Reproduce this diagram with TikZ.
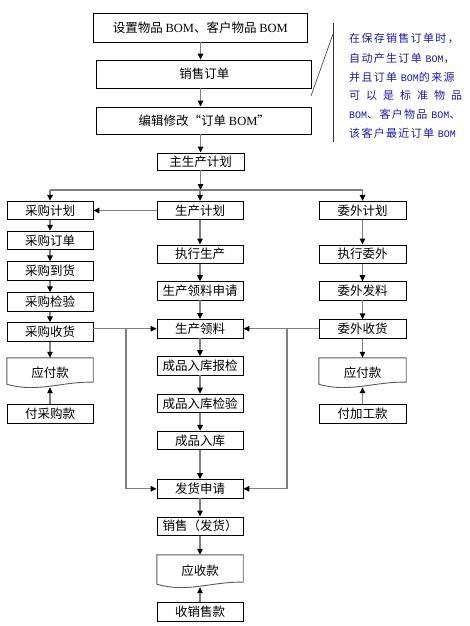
\documentclass[tikz,border=0pt]{standalone}
\usepackage{fontspec}
\setmainfont{Noto Sans CJK SC}
\newfontfamily\lat{Liberation Serif}
\newfontfamily\annot[LetterSpace=12]{Noto Sans CJK SC}
\newfontfamily\annlatfont{Liberation Mono}
\newcommand\annlat[1]{{\annlatfont\fontsize{10}{12}\selectfont #1}}
\usetikzlibrary{arrows.meta,calc}
\definecolor{linegray}{RGB}{128,128,128}
\definecolor{docgray}{RGB}{90,90,90}
\definecolor{annblue}{RGB}{25,25,175}
\newcommand\mydocshape[1]{%
  \draw[docline] (#1.north west) -- ($(#1.south west)+(0,-3)$)
    .. controls ($(#1.south west)!0.35!(#1.south east)+(0,6)$) and ($(#1.south west)!0.65!(#1.south east)+(0,-6)$)
    .. ($(#1.south east)+(0,-5)$) -- (#1.north east) -- cycle;}
\begin{document}
\begin{tikzpicture}[x=1pt,y=-1pt,
  box/.style={draw=black,line width=0.8pt,inner sep=0pt,minimum width=86pt,minimum height=18.5pt,
    font=\fontsize{12.5}{14}\selectfont,fill=white},
  bigbox/.style={box,minimum width=215pt,minimum height=28pt},
  doc/.style={inner sep=0pt,minimum width=86pt,font=\fontsize{12.5}{14}\selectfont},
  docline/.style={draw=docgray,line width=0.9pt},
  line/.style={draw=linegray,line width=1.3pt},
  arr/.style={line,-{Triangle[width=5.5pt,length=6pt,color=black]}},
  ann/.style={anchor=west,inner sep=0pt,text=annblue,font=\annot\fontsize{11}{12}\selectfont},
]
\useasboundingbox (0,0) rectangle (469,626);
\coordinate (axis) at (200.5,0);
% top
\node[bigbox,minimum width=214pt,minimum height=29pt] (b1) at (200.3,27.5) {设置物品 {\lat BOM}、客户物品 {\lat BOM}};
\node[bigbox] (b2) at (204.3,74) {销售订单};
\node[bigbox,minimum height=27pt] (b3) at (204.3,120.5) {编辑修改“订单 {\lat BOM}”};
\node[box,minimum width=87pt,minimum height=17pt] (b4) at (200.5,161.5) {主生产计划};
% left column
\node[box] (cg1) at (50,210.5) {采购计划};
\node[box] (cg2) at (50,240.5) {采购订单};
\node[box] (cg3) at (50,271) {采购到货};
\node[box] (cg4) at (50,302) {采购检验};
\node[box] (cg5) at (50,332) {采购收货};
\node[doc,minimum height=29pt] (cgd) at (50,372.5) {应付款};
\node[box] (cg6) at (50,414) {付采购款};
% middle column
\node[box] (sc1) at (200,210.5) {生产计划};
\node[box] (sc2) at (200,254.2) {执行生产};
\node[box] (sc3) at (200,290.8) {生产领料申请};
\node[box] (sc4) at (200,328.7) {生产领料};
\node[box] (sc5) at (200,365.8) {成品入库报检};
\node[box] (sc6) at (200,403.3) {成品入库检验};
\node[box] (sc7) at (200,440.5) {成品入库};
\node[box] (fh) at (200,488.8) {发货申请};
\node[box] (xs) at (200,526.2) {销售（发货）};
\node[doc,minimum height=32pt] (ys) at (200,571) {应收款};
\node[box] (sk) at (200,611.7) {收销售款};
% right column
\node[box,minimum width=87pt] (ww1) at (362.5,210.5) {委外计划};
\node[box,minimum width=87pt] (ww2) at (362.5,254.2) {执行委外};
\node[box,minimum width=87pt] (ww3) at (362.5,290.8) {委外发料};
\node[box,minimum width=87pt] (ww4) at (362.5,329) {委外收货};
\node[doc,minimum width=87pt,minimum height=29pt] (wwd) at (362.5,372.5) {应付款};
\node[box,minimum width=87pt] (ww5) at (362.5,414) {付加工款};
% document shapes
\mydocshape{cgd}
\mydocshape{ys}
\mydocshape{wwd}
% top arrows
\draw[arr] (b1.south -| axis) -- (b2.north -| axis);
\draw[arr] (b2.south -| axis) -- (b3.north -| axis);
\draw[arr] (b3.south -| axis) -- (b4.north -| axis);
\coordinate (bus) at (200.5,190);
\draw[arr] (b4.south) -- (bus);
\draw[line] (bus -| cg1) -- (bus -| ww1);
\draw[arr] (bus -| cg1) -- (cg1.north);
\draw[arr] (bus -| sc1) -- (sc1.north);
\draw[arr] (bus -| ww1) -- (ww1.north);
\draw[arr] (sc1.west) -- (cg1.east);
% left chain
\draw[arr] (cg1) -- (cg2);
\draw[arr] (cg2) -- (cg3);
\draw[arr] (cg3) -- (cg4);
\draw[arr] (cg4) -- (cg5);
\draw[arr] (cg5.south) -- (cgd.north);
\draw[arr] (cg6.north) -- (cgd.south);
% middle chain
\draw[arr] (sc1) -- (sc2);
\draw[arr] (sc2) -- (sc3);
\draw[arr] (sc3) -- (sc4);
\draw[arr] (sc4) -- (sc5);
\draw[arr] (sc5) -- (sc6);
\draw[arr] (sc6) -- (sc7);
\draw[arr] (sc7) -- (fh);
\draw[arr] (fh) -- (xs);
\draw[arr] (xs.south) -- (ys.north);
\draw[arr] (sk.north) -- (ys.south);
% right chain
\draw[arr] (ww1) -- (ww2);
\draw[arr] (ww2) -- (ww3);
\draw[arr] (ww3) -- (ww4);
\draw[arr] (ww4.south) -- (wwd.north);
\draw[arr] (ww5.north) -- (wwd.south);
% cross connectors
\coordinate (jl) at (126,329);
\coordinate (jr) at (287,329);
\draw[arr] (cg5.east |- sc4.west) -- (sc4.west);
\draw[arr] (jl) |- (fh.west);
\draw[arr] (ww4.west |- sc4.east) -- (sc4.east);
\draw[arr] (jr) |- (fh.east);
% annotation
\coordinate (bt) at (333,23);
\coordinate (bb) at (333,142);
\coordinate (bd1) at (333,34);
\coordinate (bd2) at (311,96);
\draw[line width=0.7pt,black!80] (bt) -- (bb);
\draw[line width=0.7pt,black!70] (bd1) -- (bd2);
\node[ann] (a1) at (349,38) {在保存销售订单时，};
\node[ann] (a2) at (349,58) {自动产生订单 \annlat{BOM}，};
\node[ann] (a3) at (349,77) {并且订单 \annlat{BOM}的来源};
\node[ann] (a4) at (349,95) {\makebox[113pt][s]{可 以 是 标 准 物 品}};
\node[ann] (a5) at (349,114) {\annlat{BOM}、客户物品 \annlat{BOM}、};
\node[ann] (a6) at (349,133) {该客户最近订单 \annlat{BOM}};
\end{tikzpicture}
\end{document}
